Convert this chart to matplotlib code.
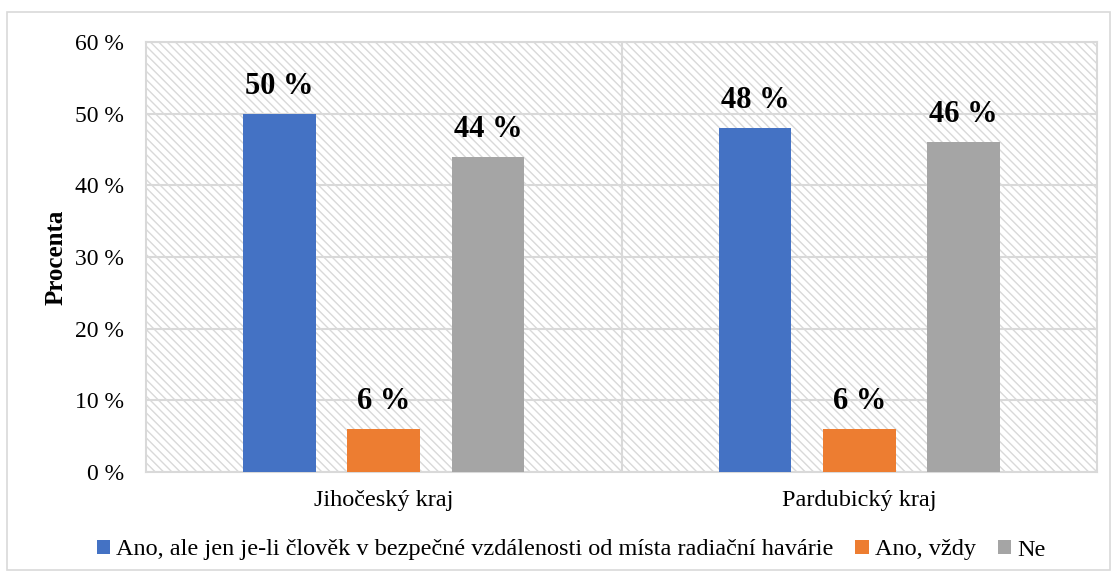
import matplotlib
matplotlib.use("Agg")
import matplotlib.pyplot as plt
from matplotlib.patches import Rectangle
import numpy as np

categories = ["Jihočeský kraj", "Pardubický kraj"]
series_names = ["Ano, ale jen je-li člověk v bezpečné vzdálenosti od místa radiační havárie",
                "Ano, vždy", "Ne"]
values_ano_ale = [50, 48]
values_ano_vzdy = [6, 6]
values_ne = [44, 46]
colors = ["#4472C4", "#ED7D31", "#A5A5A5"]
yticks = [0, 10, 20, 30, 40, 50, 60]

plt.rcParams['font.family'] = ['Liberation Serif', 'DejaVu Serif']
plt.rcParams['hatch.linewidth'] = 1.0
plt.rcParams['hatch.color'] = '#d9d9d9'

fig = plt.figure(figsize=(11.17, 5.79), dpi=100)
# outer border
fig.patches.append(Rectangle((7/1117, 1 - 570/579), (1110-7)/1117, (570-12)/579,
                             transform=fig.transFigure, fill=False,
                             edgecolor='#d9d9d9', linewidth=1.2))

ax = fig.add_axes([146/1117, 1 - 472/579, (1097-146)/1117, (472-42)/579])
ax.set_xlim(-0.5, 1.5)
ax.set_ylim(0, 60)

# hatched background
ax.add_patch(Rectangle((0, 0), 1, 1, transform=ax.transAxes, facecolor='white',
                       edgecolor='#d9d9d9', hatch='\\\\\\\\', linewidth=0, zorder=0))

x = np.arange(len(categories))
w = 0.153
off = 0.219
all_vals = [values_ano_ale, values_ano_vzdy, values_ne]
handles = []
for i, (vals, c, name) in enumerate(zip(all_vals, colors, series_names)):
    b = ax.bar(x + (i - 1) * off, vals, w, color=c, label=name, zorder=3)
    handles.append(b)
    for xi, v in zip(x + (i - 1) * off, vals):
        ax.text(xi, v + 2.8, f"{v} %", ha='center', va='baseline', fontsize=22,
                fontweight='bold', zorder=4)

ax.set_yticks(yticks)
ax.set_yticklabels([f"{t} %" for t in yticks], fontsize=17)
ax.set_xticks(x)
ax.set_xticklabels(categories, fontsize=17.5)
ax.set_xticks([0.5], minor=True)
ax.tick_params(axis='both', which='both', length=0)
ax.tick_params(axis='y', pad=16)
ax.tick_params(axis='x', pad=13)
ax.grid(axis='y', which='major', color='#d9d9d9', linewidth=1.5, zorder=1)
ax.grid(axis='x', which='minor', color='#d9d9d9', linewidth=1.5, zorder=1)
ax.set_axisbelow(True)
for s in ax.spines.values():
    s.set_color('#d9d9d9')
    s.set_linewidth(1.5)

ax.set_ylabel("Procenta", fontsize=18, fontweight='bold', labelpad=5)

fig.legend(handles=handles, labels=series_names, loc='center',
           bbox_to_anchor=(571/1117, 1 - 550/579), ncol=3, frameon=False,
           fontsize=17.5, handlelength=0.55, handleheight=0.55, handletextpad=0.25,
           columnspacing=0.9)

fig.savefig("out.png", dpi=100)
